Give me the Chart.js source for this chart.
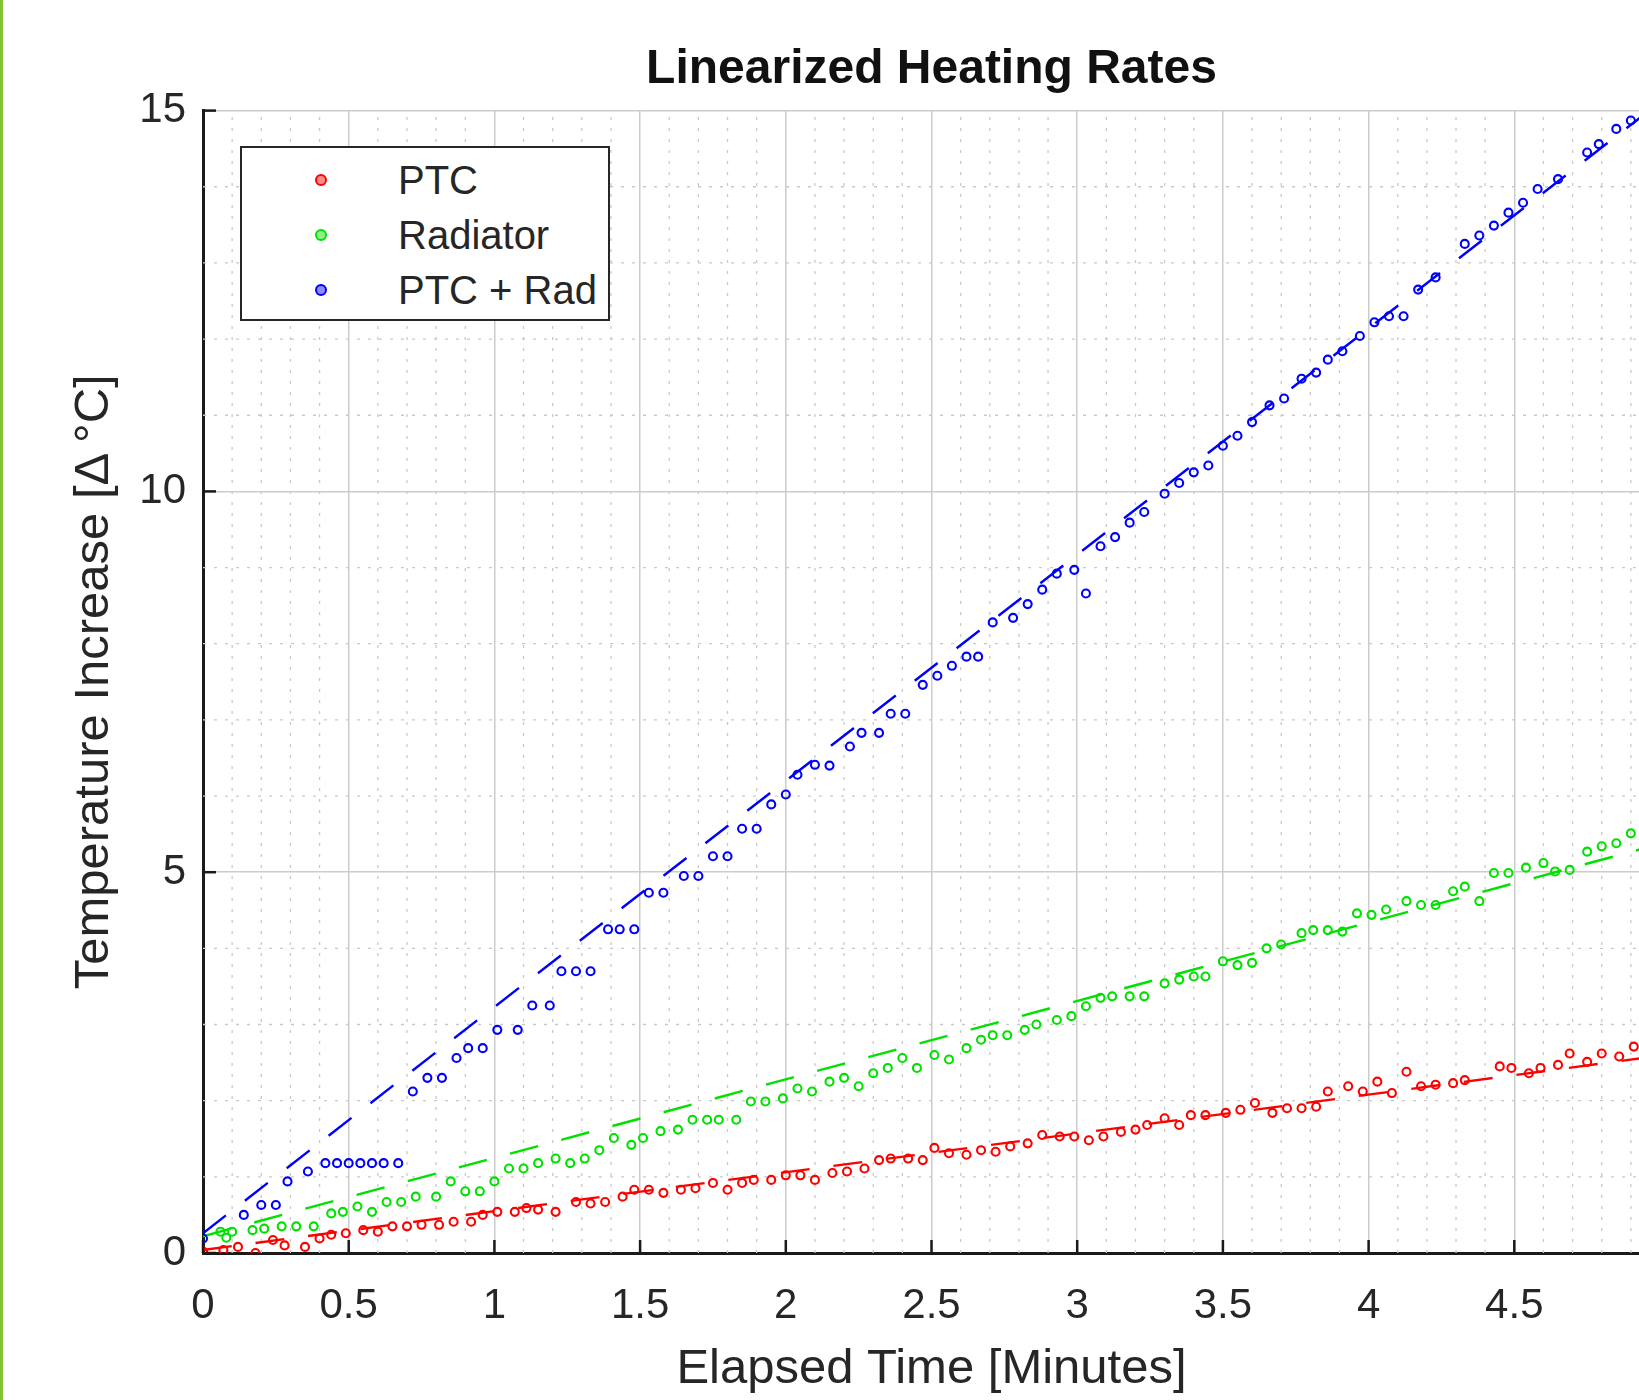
<!DOCTYPE html>
<html>
<head>
<meta charset="utf-8">
<script src="https://cdn.jsdelivr.net/npm/chart.js@4.4.1/dist/chart.umd.min.js"></script>
<style>
  html, body { margin: 0; padding: 0; overflow: hidden; background: #fff; }
  #wrap { position: relative; width: 1639px; height: 1400px; overflow: hidden; }
  #edge { position: absolute; left: 0; top: 0; width: 3px; height: 1400px; background: #86c232; }
  #chart { position: absolute; left: 0; top: 0; }
  #legend {
    position: absolute; left: 240px; top: 146px; width: 370px; height: 175px;
    box-sizing: border-box; border: 2.5px solid #262626; background: #fff;
    font-family: "Liberation Sans", Arial, sans-serif; font-size: 40px; color: #262626;
  }
  #legend .row { position: absolute; left: 0; height: 50px; line-height: 50px; white-space: nowrap; }
  #legend .dot { position: absolute; left: 73px; top: 19px; width: 12px; height: 12px;
    border-radius: 50%; box-sizing: border-box; border: 2.5px solid; }
  #legend .txt { position: absolute; left: 156px; top: 0; }
</style>
</head>
<body>
<div id="wrap">
  <canvas id="chart" width="1700" height="1400"></canvas>
  <div id="legend"></div>
  <div id="edge"></div>
</div>
<script>
// PTC heater only
const timePTC = [0.00,0.07,0.12,0.18,0.24,0.28,0.35,0.40,0.44,0.49,0.55,0.60,0.65,0.70,0.75,0.81,0.86,0.92,0.96,1.01,1.07,1.11,1.15,1.21,1.28,1.33,1.38,1.44,1.48,1.53,1.58,1.64,1.69,1.75,1.80,1.85,1.89,1.95,2.00,2.05,2.10,2.16,2.21,2.27,2.32,2.36,2.42,2.47,2.51,2.56,2.62,2.67,2.72,2.77,2.83,2.88,2.94,2.99,3.04,3.09,3.15,3.20,3.24,3.30,3.35,3.39,3.44,3.51,3.56,3.61,3.67,3.72,3.77,3.82,3.86,3.93,3.98,4.03,4.08,4.13,4.18,4.23,4.29,4.33,4.45,4.49,4.55,4.59,4.65,4.69,4.75,4.80,4.86,4.91];
const tempPTC = [0.02,0.04,0.08,0.00,0.17,0.10,0.08,0.19,0.24,0.26,0.30,0.28,0.35,0.35,0.37,0.37,0.41,0.41,0.50,0.54,0.54,0.59,0.57,0.54,0.67,0.65,0.67,0.74,0.83,0.83,0.79,0.83,0.85,0.92,0.83,0.92,0.96,0.96,1.02,1.02,0.96,1.05,1.07,1.11,1.22,1.24,1.24,1.22,1.38,1.31,1.29,1.35,1.33,1.40,1.44,1.55,1.53,1.53,1.48,1.53,1.59,1.62,1.68,1.77,1.68,1.81,1.81,1.84,1.88,1.97,1.84,1.90,1.90,1.92,2.12,2.19,2.12,2.25,2.10,2.38,2.19,2.21,2.23,2.27,2.45,2.43,2.36,2.43,2.47,2.62,2.51,2.62,2.58,2.71];

// radiator only
const timeRad = [0.06,0.08,0.10,0.17,0.21,0.27,0.32,0.38,0.44,0.48,0.53,0.58,0.63,0.68,0.73,0.80,0.85,0.90,0.95,1.00,1.05,1.10,1.15,1.21,1.26,1.31,1.36,1.41,1.47,1.51,1.57,1.63,1.68,1.73,1.77,1.83,1.88,1.93,1.99,2.04,2.09,2.15,2.20,2.25,2.30,2.35,2.40,2.45,2.51,2.56,2.62,2.67,2.71,2.76,2.82,2.86,2.93,2.98,3.03,3.08,3.12,3.18,3.23,3.30,3.35,3.40,3.44,3.50,3.55,3.60,3.65,3.70,3.77,3.81,3.86,3.91,3.96,4.01,4.06,4.13,4.18,4.23,4.29,4.33,4.38,4.43,4.48,4.54,4.60,4.64,4.69,4.75,4.80,4.85,4.90];
const tempRad = [0.28,0.20,0.28,0.30,0.32,0.35,0.35,0.35,0.52,0.54,0.61,0.54,0.67,0.67,0.74,0.74,0.94,0.81,0.81,0.94,1.11,1.11,1.18,1.24,1.18,1.24,1.35,1.51,1.42,1.51,1.60,1.62,1.75,1.75,1.75,1.75,1.99,1.99,2.03,2.16,2.12,2.25,2.30,2.19,2.36,2.43,2.56,2.43,2.60,2.54,2.69,2.80,2.86,2.86,2.93,3.00,3.06,3.11,3.24,3.35,3.37,3.37,3.37,3.54,3.59,3.63,3.63,3.83,3.78,3.81,4.00,4.05,4.20,4.24,4.24,4.22,4.46,4.44,4.51,4.62,4.57,4.57,4.75,4.81,4.62,4.99,4.99,5.06,5.12,5.01,5.03,5.27,5.34,5.38,5.51];

// both together
const timeBoth = [0.00,0.14,0.20,0.25,0.29,0.36,0.42,0.46,0.50,0.54,0.58,0.62,0.67,0.72,0.77,0.82,0.87,0.91,0.96,1.01,1.08,1.13,1.19,1.23,1.28,1.33,1.39,1.43,1.48,1.53,1.58,1.65,1.70,1.75,1.80,1.85,1.90,1.95,2.00,2.04,2.10,2.15,2.22,2.26,2.32,2.36,2.41,2.47,2.52,2.57,2.62,2.66,2.71,2.78,2.83,2.88,2.93,2.99,3.03,3.08,3.13,3.18,3.23,3.30,3.35,3.40,3.45,3.50,3.55,3.60,3.66,3.71,3.77,3.82,3.86,3.91,3.97,4.02,4.07,4.12,4.17,4.23,4.33,4.38,4.43,4.48,4.53,4.58,4.65,4.75,4.79,4.85,4.90];
const tempBoth = [0.19,0.50,0.63,0.63,0.94,1.07,1.18,1.18,1.18,1.18,1.18,1.18,1.18,2.12,2.30,2.30,2.56,2.69,2.69,2.93,2.93,3.25,3.25,3.70,3.70,3.70,4.25,4.25,4.25,4.73,4.73,4.95,4.95,5.21,5.21,5.57,5.57,5.89,6.02,6.28,6.41,6.40,6.65,6.83,6.83,7.08,7.08,7.46,7.58,7.71,7.83,7.83,8.28,8.34,8.52,8.71,8.92,8.97,8.66,9.28,9.40,9.59,9.73,9.97,10.11,10.25,10.34,10.60,10.73,10.91,11.13,11.22,11.48,11.56,11.73,11.84,12.04,12.22,12.30,12.30,12.65,12.81,13.25,13.36,13.49,13.66,13.79,13.97,14.10,14.45,14.56,14.76,14.87];

// linear fits, end points
const fitTime = [0, 5];
const fitPTC = [0.04, 2.59];
const fitRad = [0.22, 5.37];
const fitBoth = [0.26, 15.11];

const xTicks = [0, 0.5, 1, 1.5, 2, 2.5, 3, 3.5, 4, 4.5, 5];
const yTicks = [0, 5, 10, 15];

const FONT = '"Liberation Sans", Arial, sans-serif';
const INK = '#262626';

const pts = (xs, ys) => xs.map((x, i) => ({x: x, y: ys[i]}));

const scatterSet = (label, xs, ys, color) => ({
    type: 'scatter',
    label: label,
    data: pts(xs, ys),
    borderColor: color,
    backgroundColor: 'rgba(0,0,0,0)',
    pointRadius: 4,
    pointBorderWidth: 2.1,
    pointHoverRadius: 4
});

const fitSet = (ys, color) => ({
    type: 'line',
    label: '',
    data: pts(fitTime, ys),
    borderColor: color,
    borderWidth: 2.4,
    borderDash: [29, 24],
    pointRadius: 0,
    fill: false
});

// dotted minor grid + inward tick marks, matlab style
const matlabAxes = {
    id: 'matlabAxes',
    beforeDatasetsDraw(chart) {
        const {ctx, chartArea: a, scales: {x, y}} = chart;
        ctx.save();
        ctx.beginPath();
        ctx.rect(a.left, a.top, a.right - a.left, a.bottom - a.top);
        ctx.clip();
        ctx.strokeStyle = '#c9c9c9';
        ctx.lineWidth = 1.3;
        ctx.setLineDash([3, 8]);
        for (let i = 1; i < 50; i++) {
            if (i % 5 === 0) continue;
            const px = x.getPixelForValue(i / 10);
            ctx.beginPath(); ctx.moveTo(px, a.bottom); ctx.lineTo(px, a.top); ctx.stroke();
        }
        for (let j = 1; j < 15; j++) {
            if (j % 5 === 0) continue;
            const py = y.getPixelForValue(j);
            ctx.beginPath(); ctx.moveTo(a.left, py); ctx.lineTo(a.right, py); ctx.stroke();
        }
        ctx.restore();
    },
    afterDatasetsDraw(chart) {
        const {ctx, chartArea: a, scales: {x, y}} = chart;
        ctx.save();
        ctx.strokeStyle = '#1a1a1a';
        ctx.lineWidth = 2.5;
        xTicks.forEach(v => {
            const px = x.getPixelForValue(v);
            ctx.beginPath(); ctx.moveTo(px, a.bottom); ctx.lineTo(px, a.bottom - 13); ctx.stroke();
        });
        yTicks.forEach(v => {
            const py = y.getPixelForValue(v);
            ctx.beginPath(); ctx.moveTo(a.left, py); ctx.lineTo(a.left + 13, py); ctx.stroke();
        });
        ctx.restore();
    }
};

const chart = new Chart(document.getElementById('chart'), {
    type: 'scatter',
    data: {
        datasets: [
            scatterSet('PTC', timePTC, tempPTC, 'rgb(255,0,0)'),
            scatterSet('Radiator', timeRad, tempRad, 'rgb(0,225,0)'),
            scatterSet('PTC + Rad', timeBoth, tempBoth, 'rgb(0,0,255)'),
            fitSet(fitPTC, 'rgb(255,0,0)'),
            fitSet(fitRad, 'rgb(0,225,0)'),
            fitSet(fitBoth, 'rgb(0,0,255)')
        ]
    },
    options: {
        responsive: false,
        animation: false,
        layout: {padding: {left: 0, right: 40, top: 0, bottom: 0}},
        plugins: {
            legend: {display: false},
            tooltip: {enabled: false},
            title: {
                display: true,
                text: 'Linearized Heating Rates',
                fullSize: false,
                color: '#111',
                font: {family: FONT, size: 48, weight: 'bold', lineHeight: 1.2},
                padding: {top: 41, bottom: 12}
            }
        },
        scales: {
            x: {
                type: 'linear',
                min: 0,
                max: 5,
                afterFit: s => { s.height = 147; },
                afterBuildTicks: s => { s.ticks = xTicks.map(v => ({value: v})); },
                ticks: {
                    color: INK,
                    font: {family: FONT, size: 42, lineHeight: 1.2},
                    padding: 28,
                    maxRotation: 0,
                    autoSkip: false,
                    callback: v => String(v)
                },
                grid: {color: '#cccccc', lineWidth: 1.5, drawTicks: false},
                border: {display: true, color: '#1a1a1a', width: 3},
                title: {
                    display: true,
                    text: 'Elapsed Time [Minutes]',
                    color: INK,
                    font: {family: FONT, size: 49, lineHeight: 1.2},
                    padding: {top: 0, bottom: 1}
                }
            },
            y: {
                type: 'linear',
                min: 0,
                max: 15,
                afterFit: s => { s.width = 203; },
                afterBuildTicks: s => { s.ticks = yTicks.map(v => ({value: v})); },
                ticks: {
                    color: INK,
                    font: {family: FONT, size: 42, lineHeight: 1.2},
                    padding: 17,
                    callback: v => String(v)
                },
                grid: {color: '#cccccc', lineWidth: 1.5, drawTicks: false},
                border: {display: true, color: '#1a1a1a', width: 3},
                title: {
                    display: true,
                    text: 'Temperature Increase [\u0394\u2009\u00b0C]',
                    color: INK,
                    font: {family: FONT, size: 49, lineHeight: 1.2},
                    padding: {top: 65, bottom: 0}
                }
            }
        }
    },
    plugins: [matlabAxes]
});

// legend box in the upper left, built from the scatter datasets
const legendEl = document.getElementById('legend');
chart.data.datasets.filter(d => d.type === 'scatter').forEach((d, i) => {
    const row = document.createElement('div');
    row.className = 'row';
    row.style.top = (7 + i * 55) + 'px';
    const dot = document.createElement('span');
    dot.className = 'dot';
    dot.style.borderColor = d.borderColor;
    dot.style.background = d.borderColor.replace('rgb', 'rgba').replace(')', ',0.45)');
    const txt = document.createElement('span');
    txt.className = 'txt';
    txt.textContent = d.label;
    row.appendChild(dot);
    row.appendChild(txt);
    legendEl.appendChild(row);
});
</script>
</body>
</html>
